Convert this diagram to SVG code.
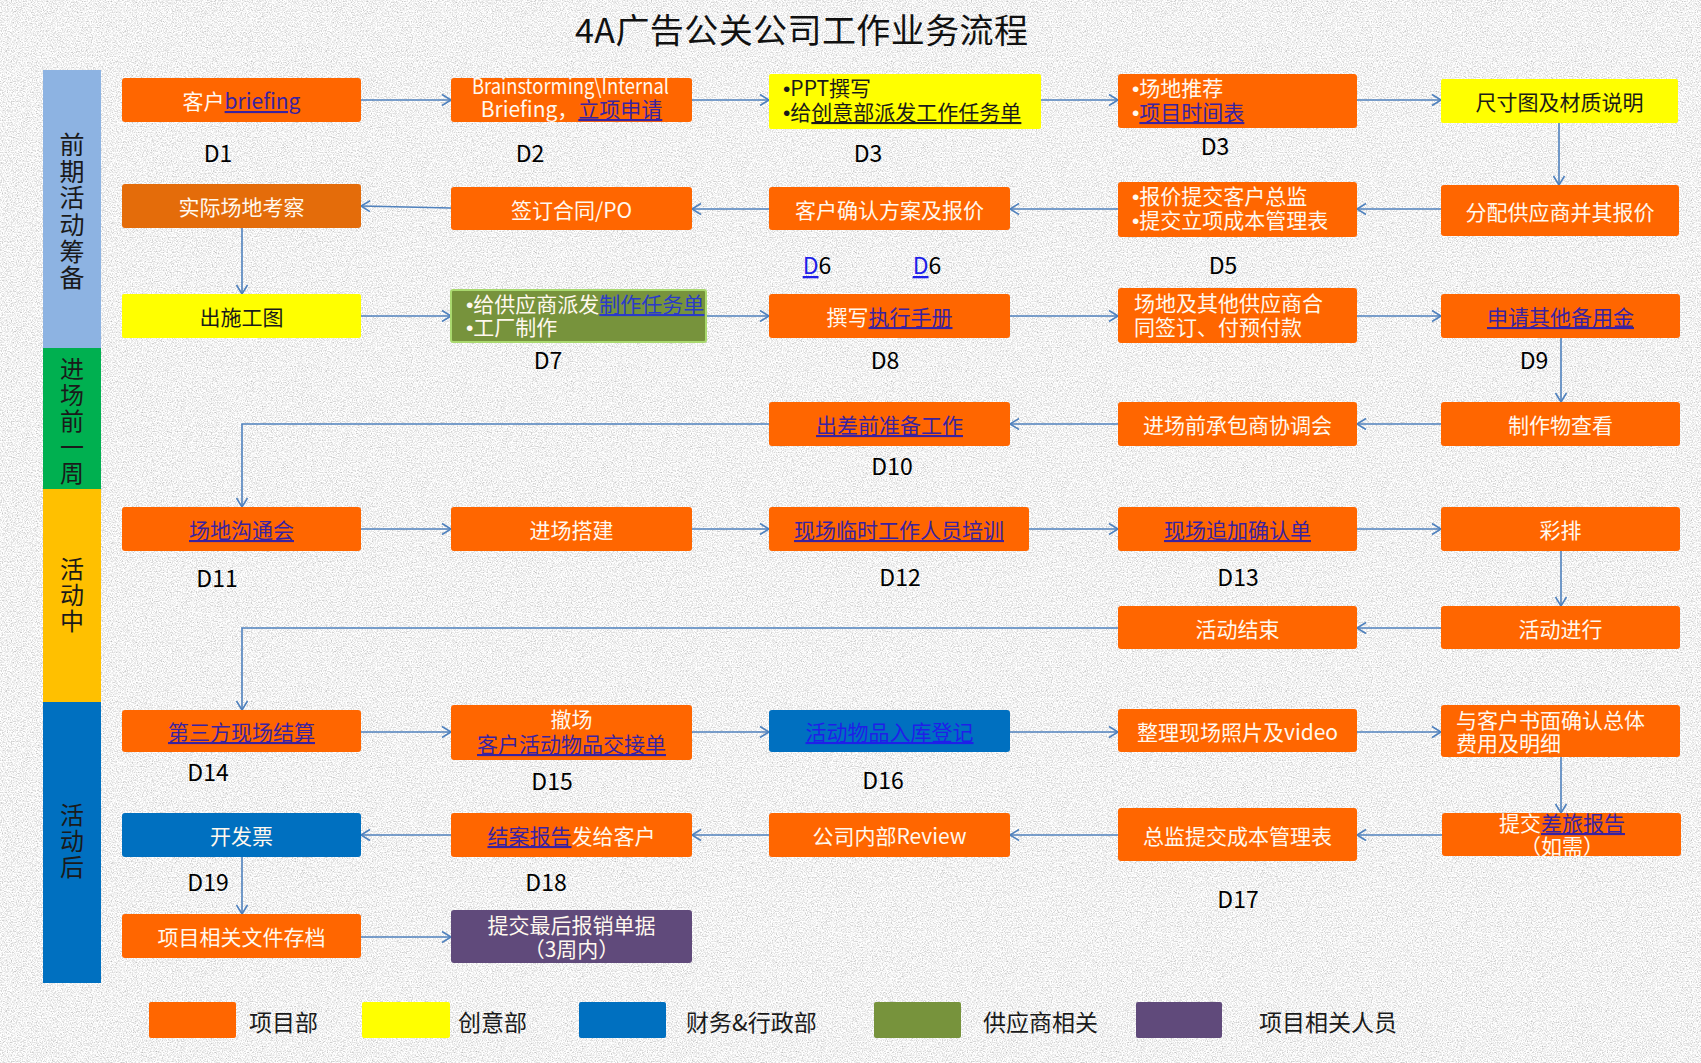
<svg xmlns="http://www.w3.org/2000/svg" width="1701" height="1063" viewBox="0 0 1701 1063">
<defs>
<filter id="grain" x="0" y="0" width="1701" height="1063" filterUnits="userSpaceOnUse" color-interpolation-filters="sRGB">
<feTurbulence type="fractalNoise" baseFrequency="0.8" numOctaves="3" seed="7"/>
<feColorMatrix type="matrix" values="1 0 0 0 0  1 0 0 0 0  1 0 0 0 0  0 0 0 0 1"/>
<feComponentTransfer>
<feFuncR type="linear" slope="0.5" intercept="0.70"/>
<feFuncG type="linear" slope="0.5" intercept="0.70"/>
<feFuncB type="linear" slope="0.5" intercept="0.70"/>
</feComponentTransfer>
</filter>
<marker id="arr" markerUnits="userSpaceOnUse" markerWidth="14" markerHeight="14" refX="11" refY="7" orient="auto">
<path d="M2,1.5 L11,7 L2,12.5" fill="none" stroke="#4F81BD" stroke-width="1.6"/>
</marker>
</defs>
<style>
text{font-family:"Noto Sans CJK SC","Noto Sans",sans-serif}
.o{fill:#FF6600}
.o2{fill:#E46C0A}
.y{fill:#FFFF00}
.b{fill:#0070C0}
.g{fill:#77933C;stroke:#A9D86E;stroke-width:2}
.p{fill:#604A7B}
.t{font-size:21px;fill:#FFF8EE}
.c{text-anchor:middle;dominant-baseline:central}
.m{text-anchor:middle}
.dk{fill:#1A1A1A}
.bu{font-family:"Liberation Sans",sans-serif}
.lk{fill:#3A22A0;text-decoration:underline}
.lk2{fill:#1F1FE8;text-decoration:underline}
.lk3{fill:#2B3BC8;text-decoration:underline}
.ul{text-decoration:underline}
.d{font-size:23px;fill:#000;text-anchor:middle}
.side{fill:#1A1A1A;writing-mode:vertical-rl;text-orientation:upright}
.leg{font-size:23px;fill:#1A1A1A}
#connectors path{fill:none;stroke:#4F81BD;stroke-width:1.6;marker-end:url(#arr)}
</style>
<rect x="0" y="0" width="1701" height="1063" fill="#E2E2E2"/>
<rect x="0" y="0" width="1701" height="1063" filter="url(#grain)"/>

<text x="575" y="43" font-size="34" fill="#111" textLength="453" lengthAdjust="spacing">4A广告公关公司工作业务流程</text>

<g id="sidebar">
<rect x="43" y="70" width="58" height="278" fill="#8DB3E2"/>
<rect x="43" y="348" width="58" height="141" fill="#00B050"/>
<rect x="43" y="489" width="58" height="213" fill="#FFC000"/>
<rect x="43" y="702" width="58" height="281" fill="#0070C0"/>
<text class="side" x="72" y="132" font-size="25" letter-spacing="1.7">前期活动筹备</text>
<text class="side" x="72" y="357" font-size="24" letter-spacing="2">进场前一周</text>
<text class="side" x="72" y="557" font-size="24" letter-spacing="2">活动中</text>
<text class="side" x="72" y="803" font-size="24" letter-spacing="2">活动后</text>
</g>

<g id="connectors">
<path d="M361,100 H451"/>
<path d="M692,100 H769"/>
<path d="M1041,100 H1118"/>
<path d="M1357,100 H1441"/>
<path d="M1559,123 V185"/>
<path d="M1441,209 H1357"/>
<path d="M1118,209 H1010"/>
<path d="M769,209 H692"/>
<path d="M451,208 L361,206"/>
<path d="M242,228 V294"/>
<path d="M361,316 H451"/>
<path d="M706,316 H769"/>
<path d="M1010,316 H1118"/>
<path d="M1357,316 H1441"/>
<path d="M1561,338 V402"/>
<path d="M1441,424 H1357"/>
<path d="M1118,424 H1010"/>
<path d="M769,424 H242 V507"/>
<path d="M361,529 H451"/>
<path d="M692,529 H769"/>
<path d="M1029,529 H1118"/>
<path d="M1357,529 H1441"/>
<path d="M1561,551 V606"/>
<path d="M1441,628 H1357"/>
<path d="M1118,628 H242 V710"/>
<path d="M361,732 H451"/>
<path d="M692,732 H769"/>
<path d="M1010,732 H1118"/>
<path d="M1357,732 H1441"/>
<path d="M1561,757 V813"/>
<path d="M1442,835 H1357"/>
<path d="M1118,835 H1010"/>
<path d="M769,835 H692"/>
<path d="M451,835 H361"/>
<path d="M242,857 V914"/>
<path d="M361,937 H451"/>
</g>

<g id="n1"><rect class="o" x="122" y="78" width="239" height="44" rx="3"/><text class="t c" x="241.5" y="100">客户<tspan class="lk">briefing</tspan></text></g>
<g id="n2"><rect class="o" x="451" y="78" width="241" height="44" rx="3"/><text class="t" x="472" y="94" font-size="18" textLength="197" lengthAdjust="spacingAndGlyphs">Brainstorming\Internal</text><text class="t m" x="571.5" y="117" font-size="20">Briefing，<tspan class="lk">立项申请</tspan></text></g>
<g id="n3"><rect class="y" x="769" y="74" width="272" height="55" rx="2"/><text class="t dk" x="783" y="96"><tspan class="bu">•</tspan>PPT撰写</text><text class="t dk" x="783" y="120"><tspan class="bu">•</tspan>给<tspan class="ul">创意部派发工作任务单</tspan></text></g>
<g id="n4"><rect class="o" x="1118" y="74" width="239" height="54" rx="3"/><text class="t" x="1132" y="96"><tspan class="bu">•</tspan>场地推荐</text><text class="t" x="1132" y="120"><tspan class="bu">•</tspan><tspan class="lk">项目时间表</tspan></text></g>
<g id="n5"><rect class="y" x="1441" y="79" width="237" height="44" rx="2"/><text class="t c dk" x="1559.5" y="101">尺寸图及材质说明</text></g>

<g id="n6"><rect class="o2" x="122" y="184" width="239" height="44" rx="3"/><text class="t c" x="241.5" y="206">实际场地考察</text></g>
<g id="n7"><rect class="o" x="451" y="187" width="241" height="43" rx="3"/><text class="t c" x="571.5" y="208.5">签订合同/PO</text></g>
<g id="n8"><rect class="o" x="769" y="187" width="241" height="43" rx="3"/><text class="t c" x="889.5" y="208.5">客户确认方案及报价</text></g>
<g id="n9"><rect class="o" x="1118" y="182" width="239" height="55" rx="3"/><text class="t" x="1132" y="204"><tspan class="bu">•</tspan>报价提交客户总监</text><text class="t" x="1132" y="228"><tspan class="bu">•</tspan>提交立项成本管理表</text></g>
<g id="n10"><rect class="o" x="1441" y="185" width="238" height="51" rx="3"/><text class="t c" x="1560" y="210.5">分配供应商并其报价</text></g>

<g id="n11"><rect class="y" x="122" y="294" width="239" height="44" rx="2"/><text class="t c dk" x="241.5" y="316">出施工图</text></g>
<g id="n12"><rect class="g" x="451" y="290" width="255" height="52" rx="2"/><text class="t" x="466" y="312" font-size="19.5"><tspan class="bu">•</tspan>给供应商派发<tspan class="lk3">制作任务单</tspan></text><text class="t" x="466" y="335" font-size="19.5"><tspan class="bu">•</tspan>工厂制作</text></g>
<g id="n13"><rect class="o" x="769" y="294" width="241" height="44" rx="3"/><text class="t c" x="889.5" y="316">撰写<tspan class="lk">执行手册</tspan></text></g>
<g id="n14"><rect class="o" x="1118" y="288" width="239" height="55" rx="3"/><text class="t" x="1134" y="311">场地及其他供应商合</text><text class="t" x="1134" y="335">同签订、付预付款</text></g>
<g id="n15"><rect class="o" x="1441" y="294" width="239" height="44" rx="3"/><text class="t c" x="1560.5" y="316"><tspan class="lk">申请其他备用金</tspan></text></g>

<g id="n16"><rect class="o" x="769" y="402" width="241" height="44" rx="3"/><text class="t c" x="889.5" y="424"><tspan class="lk">出差前准备工作</tspan></text></g>
<g id="n17"><rect class="o" x="1118" y="402" width="239" height="44" rx="3"/><text class="t c" x="1237.5" y="424">进场前承包商协调会</text></g>
<g id="n18"><rect class="o" x="1441" y="402" width="239" height="44" rx="3"/><text class="t c" x="1560.5" y="424">制作物查看</text></g>

<g id="n19"><rect class="o" x="122" y="507" width="239" height="44" rx="3"/><text class="t c" x="241.5" y="529"><tspan class="lk">场地沟通会</tspan></text></g>
<g id="n20"><rect class="o" x="451" y="507" width="241" height="44" rx="3"/><text class="t c" x="571.5" y="529">进场搭建</text></g>
<g id="n21"><rect class="o" x="769" y="507" width="260" height="44" rx="3"/><text class="t c" x="899" y="529"><tspan class="lk">现场临时工作人员培训</tspan></text></g>
<g id="n22"><rect class="o" x="1118" y="507" width="239" height="44" rx="3"/><text class="t c" x="1237.5" y="529"><tspan class="lk">现场追加确认单</tspan></text></g>
<g id="n23"><rect class="o" x="1441" y="507" width="239" height="44" rx="3"/><text class="t c" x="1560.5" y="529">彩排</text></g>

<g id="n24"><rect class="o" x="1118" y="606" width="239" height="43" rx="3"/><text class="t c" x="1237.5" y="627.5">活动结束</text></g>
<g id="n25"><rect class="o" x="1441" y="606" width="239" height="43" rx="3"/><text class="t c" x="1560.5" y="627.5">活动进行</text></g>

<g id="n26"><rect class="o" x="122" y="710" width="239" height="42" rx="3"/><text class="t c" x="241.5" y="731"><tspan class="lk">第三方现场结算</tspan></text></g>
<g id="n27"><rect class="o" x="451" y="705" width="241" height="55" rx="3"/><text class="t m" x="571.5" y="727">撤场</text><text class="t m" x="571.5" y="752"><tspan class="lk">客户活动物品交接单</tspan></text></g>
<g id="n28"><rect class="b" x="769" y="710" width="241" height="42" rx="3"/><text class="t c" x="889.5" y="731"><tspan class="lk2">活动物品入库登记</tspan></text></g>
<g id="n29"><rect class="o" x="1118" y="709" width="239" height="43" rx="3"/><text class="t c" x="1237.5" y="730.5">整理现场照片及video</text></g>
<g id="n30"><rect class="o" x="1441" y="705" width="239" height="52" rx="3"/><text class="t" x="1456" y="728">与客户书面确认总体</text><text class="t" x="1456" y="751">费用及明细</text></g>

<g id="n31"><rect class="b" x="122" y="813" width="239" height="44" rx="3"/><text class="t c" x="241.5" y="835">开发票</text></g>
<g id="n32"><rect class="o" x="451" y="813" width="241" height="44" rx="3"/><text class="t c" x="571.5" y="835"><tspan class="lk">结案报告</tspan>发给客户</text></g>
<g id="n33"><rect class="o" x="769" y="813" width="241" height="44" rx="3"/><text class="t c" x="889.5" y="835">公司内部Review</text></g>
<g id="n34"><rect class="o" x="1118" y="808" width="239" height="53" rx="3"/><text class="t c" x="1237.5" y="834.5">总监提交成本管理表</text></g>
<g id="n35"><rect class="o" x="1442" y="813" width="239" height="43" rx="3"/><text class="t m" x="1562" y="831">提交<tspan class="lk">差旅报告</tspan></text><text class="t m" x="1562" y="854">（如需）</text></g>

<g id="n36"><rect class="o" x="122" y="914" width="239" height="44" rx="3"/><text class="t c" x="241.5" y="936">项目相关文件存档</text></g>
<g id="n37"><rect class="p" x="451" y="910" width="241" height="53" rx="3"/><text class="t m" x="571.5" y="933">提交最后报销单据</text><text class="t m" x="571.5" y="957">（3周内）</text></g>

<g id="day-labels">
<text class="d" x="218" y="162">D1</text>
<text class="d" x="530" y="162">D2</text>
<text class="d" x="868" y="162">D3</text>
<text class="d" x="1215" y="155">D3</text>
<text class="d" x="817" y="274"><tspan fill="#1F1FE8" text-decoration="underline">D</tspan>6</text>
<text class="d" x="927" y="274"><tspan fill="#1F1FE8" text-decoration="underline">D</tspan>6</text>
<text class="d" x="1223" y="274">D5</text>
<text class="d" x="548" y="369">D7</text>
<text class="d" x="885" y="369">D8</text>
<text class="d" x="1534" y="369">D9</text>
<text class="d" x="892" y="475">D10</text>
<text class="d" x="217" y="587">D11</text>
<text class="d" x="900" y="586">D12</text>
<text class="d" x="1238" y="586">D13</text>
<text class="d" x="208" y="781">D14</text>
<text class="d" x="552" y="790">D15</text>
<text class="d" x="883" y="789">D16</text>
<text class="d" x="208" y="891">D19</text>
<text class="d" x="546" y="891">D18</text>
<text class="d" x="1238" y="908">D17</text>
</g>

<g id="legend">
<rect class="o" x="149" y="1002" width="87" height="36" rx="2"/><text class="leg" x="249" y="1031">项目部</text>
<rect class="y" x="362" y="1002" width="88" height="36" rx="2"/><text class="leg" x="458" y="1031">创意部</text>
<rect class="b" x="579" y="1002" width="87" height="36" rx="2"/><text class="leg" x="686" y="1031">财务&amp;行政部</text>
<rect fill="#77933C" x="874" y="1002" width="87" height="36" rx="2"/><text class="leg" x="983" y="1031">供应商相关</text>
<rect class="p" x="1136" y="1002" width="86" height="36" rx="2"/><text class="leg" x="1259" y="1031">项目相关人员</text>
</g>
</svg>
